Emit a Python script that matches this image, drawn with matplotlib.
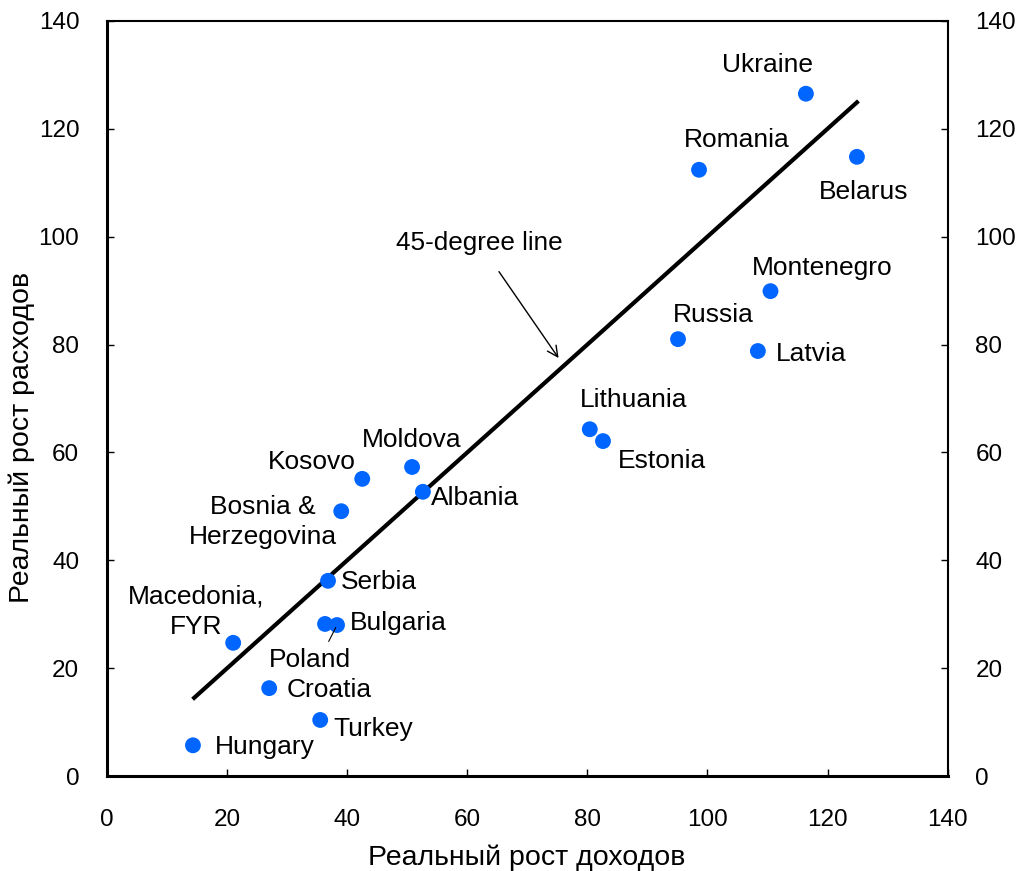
import matplotlib
matplotlib.use('Agg')
import matplotlib.pyplot as plt

plt.rcParams['font.family'] = ['Liberation Sans', 'DejaVu Sans']

# data: real income growth (x) vs real expenditure growth (y)
countries = ['Ukraine', 'Romania', 'Belarus', 'Montenegro', 'Russia', 'Latvia',
             'Lithuania', 'Estonia', 'Moldova', 'Kosovo', 'Albania',
             'Bosnia &\nHerzegovina', 'Serbia', 'Poland', 'Bulgaria',
             'Macedonia,\nFYR', 'Croatia', 'Turkey', 'Hungary']
income = [116.4, 98.6, 124.9, 110.5, 95.1, 108.4,
          80.4, 82.6, 50.8, 42.5, 52.6,
          39.0, 36.8, 36.3, 38.3,
          21.0, 27.0, 35.5, 14.3]
spending = [126.5, 112.4, 114.8, 89.9, 81.0, 78.8,
            64.3, 62.1, 57.3, 55.1, 52.7,
            49.1, 36.2, 28.2, 28.0,
            24.7, 16.3, 10.4, 5.7]
line_x = [14.5, 124.9]
ticks = [0, 20, 40, 60, 80, 100, 120, 140]

# label offsets (pixels from point) and alignment
label_style = {
    'Ukraine': (-38, 29, 'center'),
    'Romania': (38, 30, 'center'),
    'Belarus': (7, -35, 'center'),
    'Montenegro': (52, 23, 'center'),
    'Russia': (35, 24, 'center'),
    'Latvia': (18, -3, 'left'),
    'Lithuania': (44, 29, 'center'),
    'Estonia': (15, -20, 'left'),
    'Moldova': (0, 27, 'center'),
    'Kosovo': (-6, 17, 'right'),
    'Albania': (8, -6, 'left'),
    'Bosnia &\nHerzegovina': (-78, -11, 'center'),
    'Serbia': (13, -1, 'left'),
    'Poland': (-15, -36, 'center'),
    'Bulgaria': (13, 2, 'left'),
    'Macedonia,\nFYR': (-37, 31, 'center'),
    'Croatia': (17, -2, 'left'),
    'Turkey': (13, -9, 'left'),
    'Hungary': (22, -2, 'left'),
}

fig = plt.figure(figsize=(10.2, 8.71), dpi=100)
ax = fig.add_axes([0.105, 0.109, 0.824, 0.867])

ax.plot(line_x, line_x, color='black', linewidth=3, zorder=2)
ax.scatter(income, spending, s=130, color='#0066FF', zorder=3, edgecolors='none')

for name, x, y in zip(countries, income, spending):
    dx, dy, ha = label_style[name]
    ax.annotate(name, xy=(x, y), xytext=(dx * 0.72, dy * 0.72),
                textcoords='offset points', ha=ha, va='center',
                multialignment='center',
                fontsize=19, linespacing=1.3, zorder=4)

# leader line for Poland
ax.annotate('', xy=(38.3, 28.0), xytext=(36.7, 24.5),
            arrowprops=dict(arrowstyle='-', color='black', lw=0.8))

ax.annotate('45-degree line', xy=(75.2, 77.5), xytext=(62.0, 98.8),
            ha='center', va='center', fontsize=18.8,
            arrowprops=dict(arrowstyle='->', color='black', lw=1,
                            shrinkA=12, shrinkB=0))

ax.set_xlim(0, 140)
ax.set_ylim(0, 140)
ax.set_xticks(ticks)
ax.set_yticks(ticks)
ax.tick_params(axis='both', direction='in', length=5, labelsize=17.5, width=1)
ax.tick_params(axis='x', pad=24)
ax.tick_params(axis='y', pad=20, right=True, labelright=True)

for side in ['left', 'bottom']:
    ax.spines[side].set_linewidth(2.2)
for side in ['top', 'right']:
    ax.spines[side].set_linewidth(1.5)

ax.set_xlabel('Реальный рост доходов', fontsize=20.5)
ax.set_ylabel('Реальный рост расходов', fontsize=20.5)
ax.xaxis.set_label_coords(0.499, -0.091)
ax.yaxis.set_label_coords(-0.086, 0.449)

fig.savefig('out.png', dpi=100)
